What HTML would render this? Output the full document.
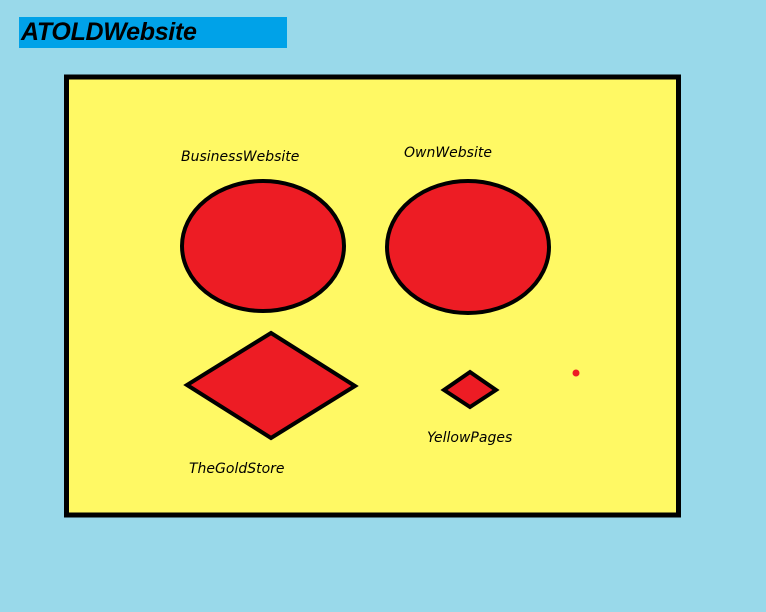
<!DOCTYPE html>
<html>
<head>
<meta charset="utf-8">
<style>
  html, body { margin: 0; padding: 0; }
  body { width: 766px; height: 612px; background: #99d9ea; overflow: hidden; position: relative; font-family: "Liberation Sans", "DejaVu Sans", sans-serif; }
  #title { position: absolute; left: 19px; top: 17px; width: 268px; height: 31px; background: #00a2e8; }
  #title span { position: absolute; left: 2px; top: 1px; font-size: 25px; font-weight: bold; font-style: italic; color: #000; letter-spacing: -0.3px; }
  svg { position: absolute; left: 0; top: 0; }
  .lbl { font-family: "DejaVu Sans", "Liberation Sans", sans-serif; font-style: italic; font-size: 14px; fill: #000; }
</style>
</head>
<body>
<div id="title"><span>ATOLDWebsite</span></div>
<svg width="766" height="612">
  <rect x="66.5" y="77" width="612" height="438" fill="#fff964" stroke="#000" stroke-width="5"/>
  <ellipse cx="263" cy="246" rx="81" ry="65" fill="#ed1c24" stroke="#000" stroke-width="4"/>
  <ellipse cx="468" cy="247" rx="81" ry="66" fill="#ed1c24" stroke="#000" stroke-width="4"/>
  <polygon points="271,333 355,386 271,438 187,385" fill="#ed1c24" stroke="#000" stroke-width="4" stroke-linejoin="miter"/>
  <polygon points="470,372 496,390 470,407 444,390" fill="#ed1c24" stroke="#000" stroke-width="4"/>
  <circle cx="576" cy="373" r="3.5" fill="#ed1c24"/>
  <text class="lbl" x="181" y="161">BusinessWebsite</text>
  <text class="lbl" x="404" y="157">OwnWebsite</text>
  <text class="lbl" x="427" y="442">YellowPages</text>
  <text class="lbl" x="189" y="473">TheGoldStore</text>
</svg>
</body>
</html>
